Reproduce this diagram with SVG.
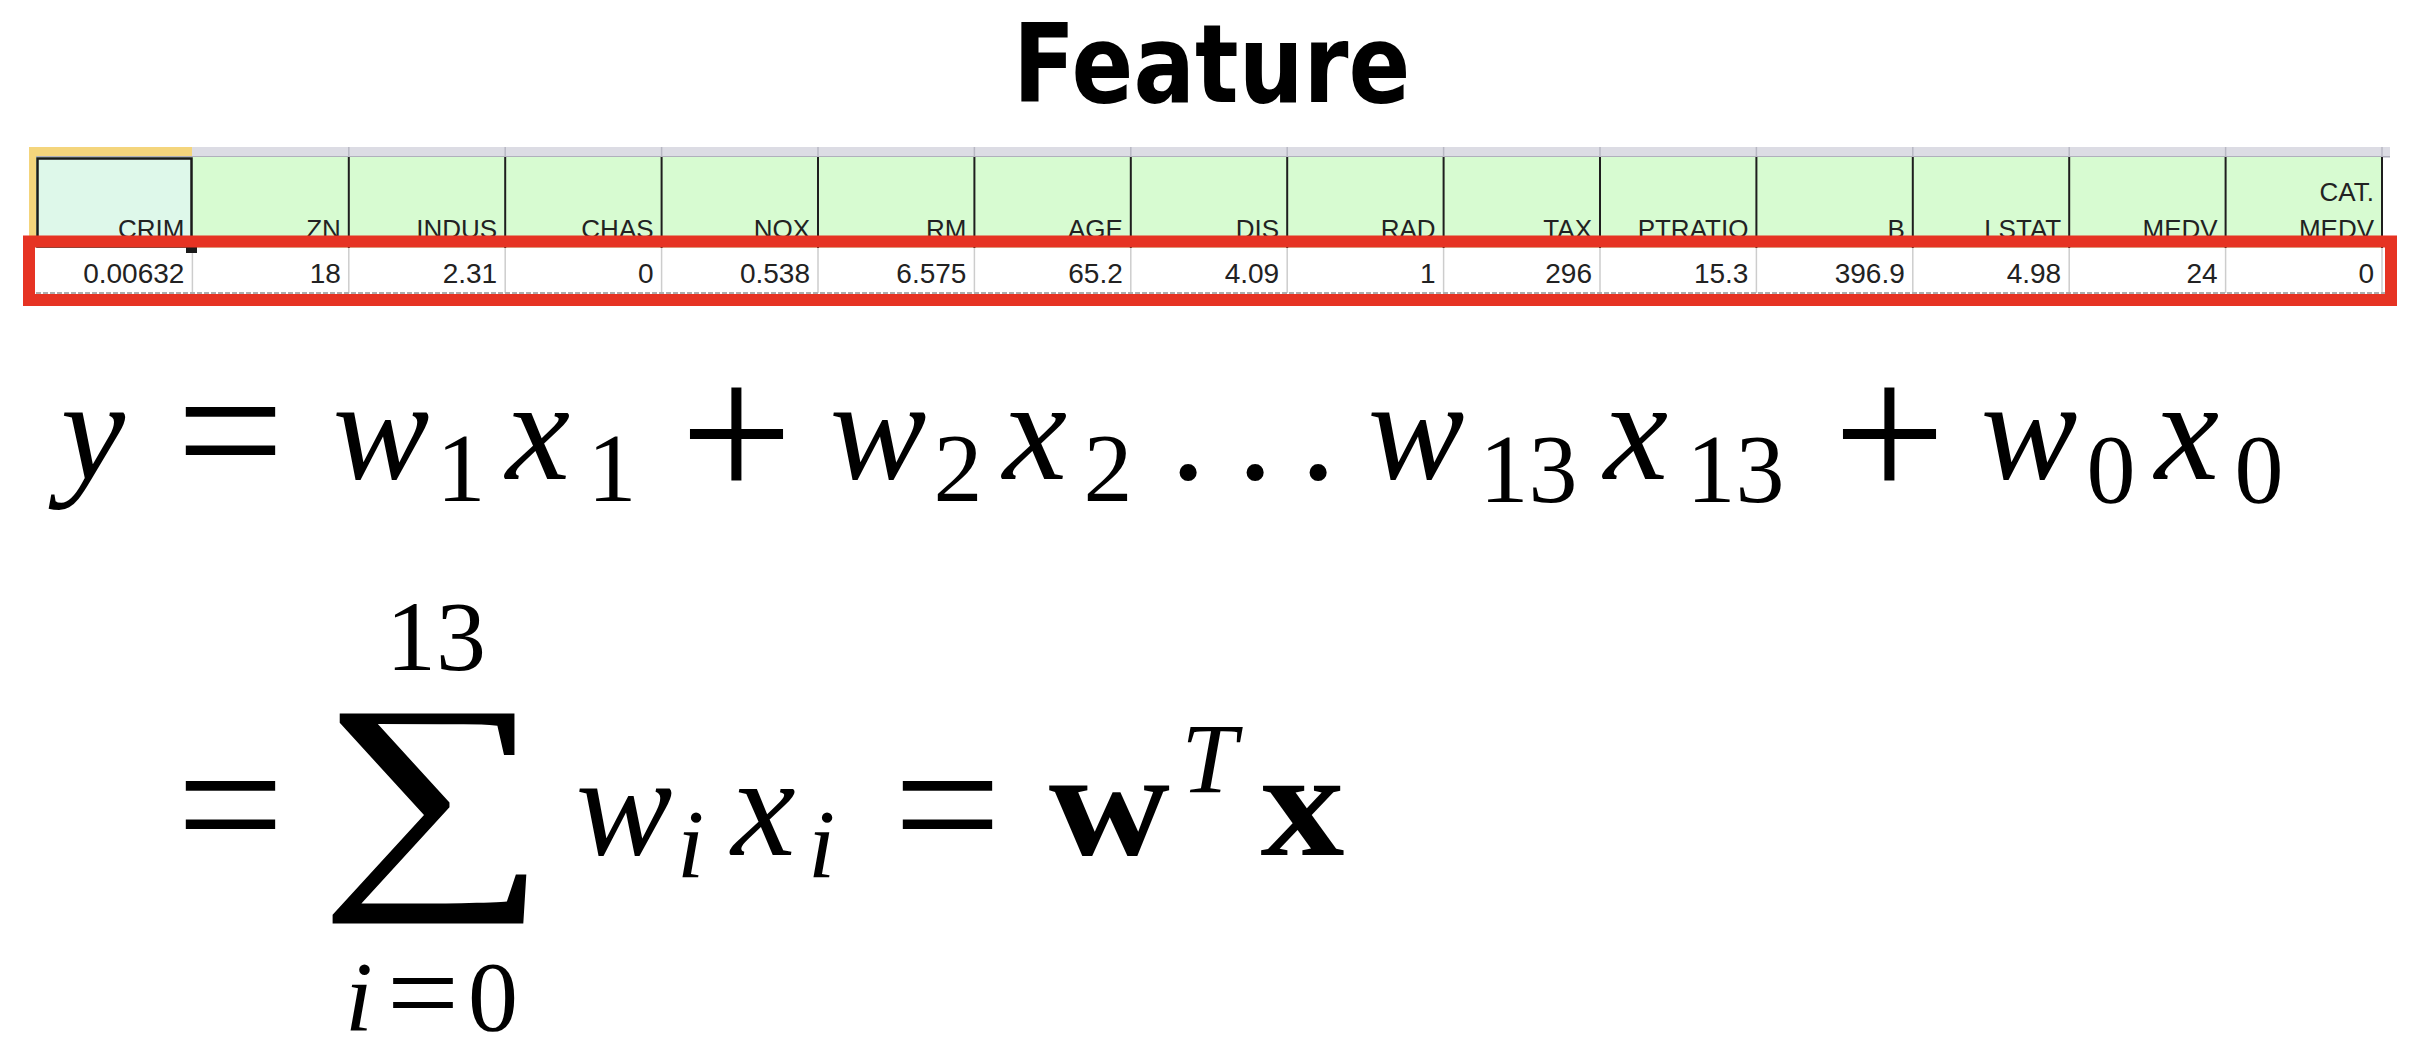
<svg xmlns="http://www.w3.org/2000/svg" width="2418" height="1060" viewBox="0 0 2418 1060">
<style>
.hdr{font-family:"Liberation Sans",Arial,sans-serif;font-size:26px;fill:#222;text-anchor:end}
.dat{font-family:"Liberation Sans",Arial,sans-serif;font-size:28px;fill:#222;text-anchor:end}
.m{font-family:"Liberation Serif","DejaVu Serif",serif;fill:#000;text-anchor:middle}
.it{font-style:italic}
.big{font-size:145px}
.sub{font-size:98px}
.op{font-size:192px}
.pl{font-size:200px}
.bd{font-weight:bold;font-size:150px}
.vl{stroke:#1e1e1e;stroke-width:2}
.gl{stroke:#cdcdcd;stroke-width:1.5}
.sl{stroke:#b8b8c4;stroke-width:1.5}
</style>
<rect width="2418" height="1060" fill="#fff"/>
<g id="title">
<text transform="translate(1013 101.5) scale(0.837 1)" font-family="DejaVu Sans,Verdana,sans-serif" font-weight="bold" font-size="109" fill="#000">Feature</text>
</g>
<g id="table">
<rect x="36" y="147" width="2354" height="10" fill="#dcdce4"/>
<rect x="29" y="147" width="163" height="10" fill="#f4d57c"/>
<rect x="29" y="147" width="7" height="90" fill="#f4d57c"/>
<rect x="36" y="156" width="2354" height="1.5" fill="#b0b0bc"/>
<g>
<line class="sl" x1="348.8" y1="147" x2="348.8" y2="157"/><line class="sl" x1="505.2" y1="147" x2="505.2" y2="157"/><line class="sl" x1="661.6" y1="147" x2="661.6" y2="157"/><line class="sl" x1="818" y1="147" x2="818" y2="157"/><line class="sl" x1="974.4" y1="147" x2="974.4" y2="157"/><line class="sl" x1="1130.8" y1="147" x2="1130.8" y2="157"/><line class="sl" x1="1287.2" y1="147" x2="1287.2" y2="157"/><line class="sl" x1="1443.6" y1="147" x2="1443.6" y2="157"/><line class="sl" x1="1600" y1="147" x2="1600" y2="157"/><line class="sl" x1="1756.4" y1="147" x2="1756.4" y2="157"/><line class="sl" x1="1912.8" y1="147" x2="1912.8" y2="157"/><line class="sl" x1="2069.2" y1="147" x2="2069.2" y2="157"/><line class="sl" x1="2225.6" y1="147" x2="2225.6" y2="157"/><line class="sl" x1="2382" y1="147" x2="2382" y2="157"/>
</g>
<rect x="36" y="157" width="2346" height="91" fill="#d7fbd1"/>
<rect x="37" y="158" width="154" height="89" fill="#def8ea"/>
<g>
<line class="vl" x1="348.8" y1="157" x2="348.8" y2="248"/><line class="vl" x1="505.2" y1="157" x2="505.2" y2="248"/><line class="vl" x1="661.6" y1="157" x2="661.6" y2="248"/><line class="vl" x1="818" y1="157" x2="818" y2="248"/><line class="vl" x1="974.4" y1="157" x2="974.4" y2="248"/><line class="vl" x1="1130.8" y1="157" x2="1130.8" y2="248"/><line class="vl" x1="1287.2" y1="157" x2="1287.2" y2="248"/><line class="vl" x1="1443.6" y1="157" x2="1443.6" y2="248"/><line class="vl" x1="1600" y1="157" x2="1600" y2="248"/><line class="vl" x1="1756.4" y1="157" x2="1756.4" y2="248"/><line class="vl" x1="1912.8" y1="157" x2="1912.8" y2="248"/><line class="vl" x1="2069.2" y1="157" x2="2069.2" y2="248"/><line class="vl" x1="2225.6" y1="157" x2="2225.6" y2="248"/><line class="vl" x1="2382" y1="157" x2="2382" y2="248"/>
</g>
<rect x="37.5" y="158.5" width="154" height="88" fill="none" stroke="#1a1a1a" stroke-width="2.5"/>
<rect x="36" y="248" width="2349" height="45" fill="#fff"/>
<g>
<line class="gl" x1="192.4" y1="248" x2="192.4" y2="293"/><line class="gl" x1="348.8" y1="248" x2="348.8" y2="293"/><line class="gl" x1="505.2" y1="248" x2="505.2" y2="293"/><line class="gl" x1="661.6" y1="248" x2="661.6" y2="293"/><line class="gl" x1="818" y1="248" x2="818" y2="293"/><line class="gl" x1="974.4" y1="248" x2="974.4" y2="293"/><line class="gl" x1="1130.8" y1="248" x2="1130.8" y2="293"/><line class="gl" x1="1287.2" y1="248" x2="1287.2" y2="293"/><line class="gl" x1="1443.6" y1="248" x2="1443.6" y2="293"/><line class="gl" x1="1600" y1="248" x2="1600" y2="293"/><line class="gl" x1="1756.4" y1="248" x2="1756.4" y2="293"/><line class="gl" x1="1912.8" y1="248" x2="1912.8" y2="293"/><line class="gl" x1="2069.2" y1="248" x2="2069.2" y2="293"/><line class="gl" x1="2225.6" y1="248" x2="2225.6" y2="293"/><line class="gl" x1="2382" y1="248" x2="2382" y2="293"/>
</g>
<line x1="36" y1="293" x2="2385" y2="293" stroke="#aeaeae" stroke-width="2" stroke-dasharray="5 2"/>
<rect x="186" y="246" width="11" height="7" fill="#1a1a1a"/>
<g id="headers">
<text class="hdr" x="184.4" y="238">CRIM</text>
<text class="hdr" x="340.8" y="238">ZN</text>
<text class="hdr" x="497.2" y="238">INDUS</text>
<text class="hdr" x="653.6" y="238">CHAS</text>
<text class="hdr" x="810" y="238">NOX</text>
<text class="hdr" x="966.4" y="238">RM</text>
<text class="hdr" x="1122.8" y="238">AGE</text>
<text class="hdr" x="1279.2" y="238">DIS</text>
<text class="hdr" x="1435.6" y="238">RAD</text>
<text class="hdr" x="1592" y="238">TAX</text>
<text class="hdr" x="1748.4" y="238">PTRATIO</text>
<text class="hdr" x="1904.8" y="238">B</text>
<text class="hdr" x="2061.2" y="238">LSTAT</text>
<text class="hdr" x="2217.6" y="238">MEDV</text>
<text class="hdr" x="2374" y="201">CAT.</text>
<text class="hdr" x="2374" y="238">MEDV</text>
</g>
<g id="values">
<text class="dat" x="184.4" y="283">0.00632</text>
<text class="dat" x="340.8" y="283">18</text>
<text class="dat" x="497.2" y="283">2.31</text>
<text class="dat" x="653.6" y="283">0</text>
<text class="dat" x="810" y="283">0.538</text>
<text class="dat" x="966.4" y="283">6.575</text>
<text class="dat" x="1122.8" y="283">65.2</text>
<text class="dat" x="1279.2" y="283">4.09</text>
<text class="dat" x="1435.6" y="283">1</text>
<text class="dat" x="1592" y="283">296</text>
<text class="dat" x="1748.4" y="283">15.3</text>
<text class="dat" x="1904.8" y="283">396.9</text>
<text class="dat" x="2061.2" y="283">4.98</text>
<text class="dat" x="2217.6" y="283">24</text>
<text class="dat" x="2374" y="283">0</text>
</g>
<rect id="highlight" x="29" y="241.5" width="2362" height="58.5" fill="none" stroke="#e63323" stroke-width="12"/>
</g>
<g id="equation1">
<text class="m it big" x="93" y="479">y</text>
<text class="m op" x="230.5" y="495">=</text>
<text class="m it big" x="381" y="479">w</text>
<text class="m sub" x="461" y="501">1</text>
<text class="m it big" x="538" y="479">x</text>
<text class="m sub" x="612" y="501">1</text>
<text class="m pl" x="736.5" y="500">+</text>
<text class="m it big" x="878" y="479">w</text>
<text class="m sub" x="958" y="501">2</text>
<text class="m it big" x="1035" y="479">x</text>
<text class="m sub" x="1108" y="501">2</text>
<text class="m big" x="1188" y="479">.</text>
<text class="m big" x="1255" y="479">.</text>
<text class="m big" x="1318" y="479">.</text>
<text class="m it big" x="1416" y="479">w</text>
<text class="m sub" x="1528.5" y="502">13</text>
<text class="m it big" x="1636" y="479">x</text>
<text class="m sub" x="1735.5" y="502">13</text>
<text class="m pl" x="1889.5" y="500">+</text>
<text class="m it big" x="2029" y="479">w</text>
<text class="m sub" x="2111" y="502">0</text>
<text class="m it big" x="2187" y="479">x</text>
<text class="m sub" x="2259" y="502">0</text>
</g>
<g id="equation2">
<text class="m op" x="230.5" y="869">=</text>
<text class="m" font-size="100" x="436" y="670">13</text>
<text class="m" font-size="255" transform="translate(433.5 872) scale(1.27 0.95)">∑</text>
<text class="m it" font-size="100" x="359" y="1030">i</text>
<text class="m" font-size="95" transform="translate(423 1033) scale(1.35 1.25)">=</text>
<text class="m" font-size="100" x="493" y="1030">0</text>
<text class="m it big" x="624" y="855">w</text>
<text class="m it sub" x="690.5" y="877">i</text>
<text class="m it big" x="763.5" y="855">x</text>
<text class="m it sub" x="821.5" y="877">i</text>
<text class="m op" x="947.5" y="869">=</text>
<text class="m bd" transform="translate(1109.5 855) scale(1.12 1)">w</text>
<text class="m it" font-size="100" x="1209" y="792">T</text>
<text class="m bd" transform="translate(1302.5 855) scale(1.12 1)">x</text>
</g>
</svg>
